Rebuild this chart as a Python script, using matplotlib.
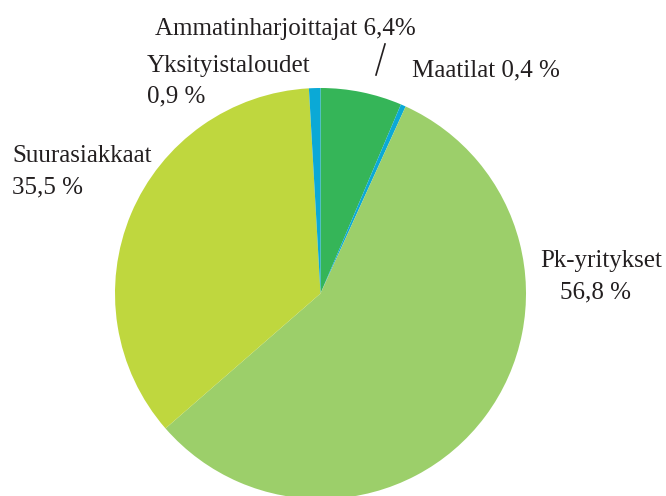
import matplotlib
matplotlib.use("Agg")
import matplotlib.pyplot as plt

labels = ["Ammatinharjoittajat", "Maatilat", "Pk-yritykset", "Suurasiakkaat", "Yksityistaloudet"]
values = [6.4, 0.4, 56.8, 35.5, 0.9]
colors = ["#35b558", "#0ba9d6", "#9ccf6a", "#bfd73e", "#0ba9d6"]

plt.rcParams['font.family'] = ['Liberation Serif', 'DejaVu Serif']

fig = plt.figure(figsize=(6.66, 4.96), dpi=100)
ax = fig.add_axes([0, 0, 1, 1])

ax.pie(values, colors=colors, startangle=90, counterclock=False,
       center=(320.5, 202.5), radius=205.5, frame=True,
       wedgeprops=dict(linewidth=0))
ax.set_xlim(0, 666)
ax.set_ylim(0, 496)
ax.set_aspect('equal')
ax.axis('off')

fs = 18
col = "#231f20"
def T(x, ytop, s, **kw):
    ax.text(x, 496 - ytop, s, fontsize=fs, color=col, va='baseline', ha='left', **kw)

T(155, 35, f"{labels[0]} 6,4%")
ax.plot([385, 376], [496 - 44, 496 - 75], color=col, lw=1.2)
T(412, 76, f"{labels[1]} 0,4 %")
T(147, 72, labels[4])
T(147, 102, "0,9 %")
T(12, 162, labels[3])
T(12, 193, "35,5 %")
T(540, 267, labels[2])
T(560, 298, "56,8 %")

fig.savefig("out.png", dpi=100)
